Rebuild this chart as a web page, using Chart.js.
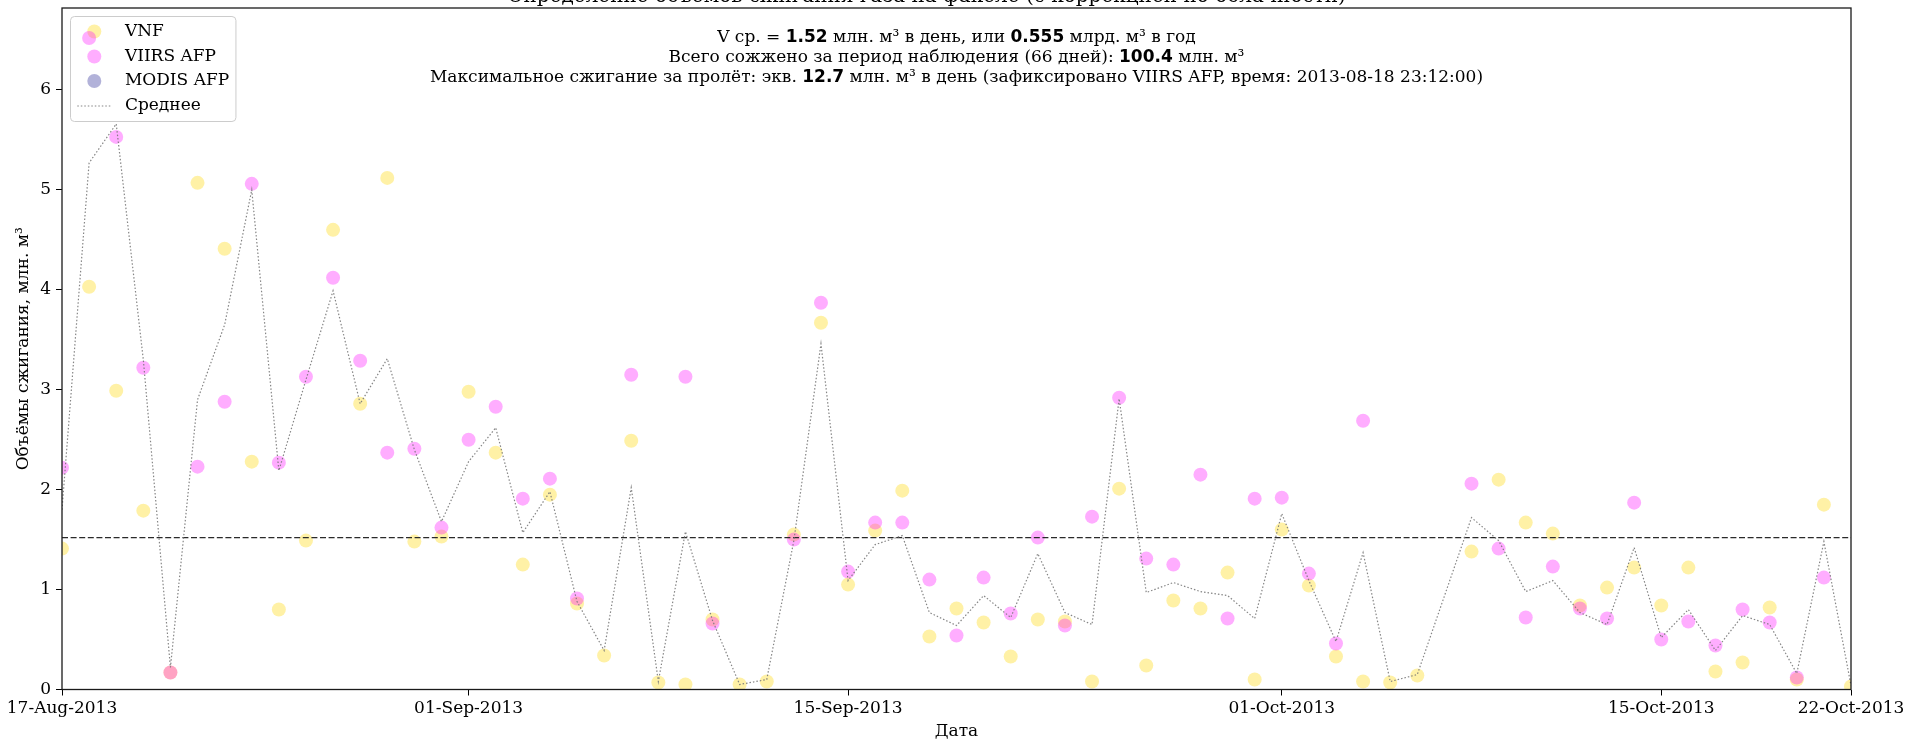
<!DOCTYPE html>
<html>
<head>
<meta charset="utf-8">
<script src="https://cdn.jsdelivr.net/npm/chart.js@4.4.1/dist/chart.umd.min.js"></script>
<style>
  html, body { margin: 0; padding: 0; background: #fff; }
  canvas { display: block; }
</style>
</head>
<body>
<canvas id="c" width="1905" height="740"></canvas>
<script>
// Day offsets from 17-Aug-2013 (0 .. 66)
const days = Array.from({ length: 67 }, (_, i) => i);

// Daily flared volume, mln m3 / day (null = no detection that day)
const vnf = [
  1.41, 4.03, 2.99, 1.79, 0.17, 5.07, 4.41, 2.28, 0.80, 1.49,
  4.60, 2.86, 5.12, 1.48, 1.53, 2.98, 2.37, 1.25, 1.95, 0.86,
  0.34, 2.49, 0.07, 0.05, 0.70, 0.05, 0.08, 1.55, 3.67, 1.05,
  1.59, 1.99, 0.53, 0.81, 0.67, 0.33, 0.70, 0.68, 0.08, 2.01,
  0.24, 0.89, 0.81, 1.17, 0.10, 1.60, 1.04, 0.33, 0.08, 0.07,
  0.14, null, 1.38, 2.10, 1.67, 1.56, 0.84, 1.02, 1.22, 0.84,
  1.22, 0.18, 0.27, 0.82, 0.10, 1.85, 0.03
];
const viirs = [
  2.22, 6.52, 5.53, 3.22, 0.17, 2.23, 2.88, 5.06, 2.27, 3.13,
  4.12, 3.29, 2.37, 2.41, 1.62, 2.50, 2.83, 1.91, 2.11, 0.91,
  null, 3.15, null, 3.13, 0.66, null, null, 1.50, 3.87, 1.18,
  1.67, 1.67, 1.10, 0.54, 1.12, 0.76, 1.52, 0.64, 1.73, 2.92,
  1.31, 1.25, 2.15, 0.71, 1.91, 1.92, 1.16, 0.46, 2.69, null,
  null, null, 2.06, 1.41, 0.72, 1.23, 0.81, 0.71, 1.87, 0.50,
  0.68, 0.44, 0.80, 0.67, 0.12, 1.12, null
];
const modis = [];
const dailyAverage = [
  1.80, 5.27, 5.66, 3.30, 0.22, 2.90, 3.65, 5.00, 2.19, 3.10,
  3.99, 2.86, 3.31, 2.40, 1.68, 2.28, 2.62, 1.57, 1.98, 0.88,
  0.39, 2.02, 0.08, 1.58, 0.69, 0.05, 0.10, 1.49, 3.46, 1.09,
  1.45, 1.54, 0.77, 0.64, 0.94, 0.72, 1.36, 0.77, 0.65, 2.91,
  0.97, 1.07, 0.98, 0.94, 0.71, 1.76, 1.09, 0.48, 1.37, 0.08,
  0.15, null, 1.72, 1.49, 0.98, 1.09, 0.77, 0.65, 1.42, 0.52,
  0.80, 0.39, 0.74, 0.65, 0.16, 1.48, 0.04
];

// Summary figures
const meanDaily = 1.52;
const meanAnnual = 0.555;
const totalVolume = 100.4;
const periodDays = 66;
const maxPass = 12.7;
const maxPassSource = 'VIIRS AFP';
const maxPassTime = '2013-08-18 23:12:00';

// Axis ticks
const xTickDays = [0, 15, 29, 45, 59, 66];
const xTickLabels = ['17-Aug-2013', '01-Sep-2013', '15-Sep-2013', '01-Oct-2013', '15-Oct-2013', '22-Oct-2013'];
const yTickValues = [0, 1, 2, 3, 4, 5, 6];
const xMax = 66;
const yMax = 6.82;

const SERIF = '"DejaVu Serif", serif';
const SANS = '"DejaVu Sans", sans-serif';
const FS = 17;

const toPoints = arr => days.map((d, i) => (arr[i] == null ? null : { x: d, y: arr[i] })).filter(Boolean);

const colVNF = 'rgba(255, 215, 0, 0.35)';
const colVIIRS = 'rgba(255, 0, 255, 0.32)';
const colMODIS = 'rgba(0, 0, 128, 0.3)';
const colAvg = 'rgba(120, 120, 120, 0.9)';

const legendItems = [
  { label: 'VNF', kind: 'dot', color: colVNF },
  { label: 'VIIRS AFP', kind: 'dot', color: colVIIRS },
  { label: 'MODIS AFP', kind: 'dot', color: colMODIS },
  { label: 'Среднее', kind: 'line', color: colAvg }
];

function drawRich(ctx, parts, cx, cy) {
  let total = 0;
  parts.forEach(p => { ctx.font = p.b ? `bold ${FS}px ${SANS}` : `${FS}px ${SERIF}`; p.w = ctx.measureText(p.t).width; total += p.w; });
  let x = cx - total / 2;
  ctx.textAlign = 'left';
  ctx.textBaseline = 'middle';
  parts.forEach(p => { ctx.font = p.b ? `bold ${FS}px ${SANS}` : `${FS}px ${SERIF}`; ctx.fillText(p.t, x, cy); x += p.w; });
}

const decor = {
  id: 'decor',
  beforeDatasetsDraw(chart) {
    // legend box, drawn under the markers
    const ctx = chart.ctx;
    const a = chart.chartArea;
    ctx.save();
    ctx.font = `${FS}px ${SERIF}`;
    const textW = Math.max(...legendItems.map(it => ctx.measureText(it.label).width));
    const bx = a.left + 0.5 * FS, by = a.top + 0.5 * FS;
    const textX = bx + 0.4 * FS + 2 * FS + 0.8 * FS;
    const bw = textX + textW + 0.4 * FS - bx;
    const bh = 105;
    ctx.beginPath();
    ctx.roundRect(bx, by, bw, bh, 4);
    ctx.fillStyle = 'rgba(255,255,255,0.8)';
    ctx.fill();
    ctx.strokeStyle = '#cccccc';
    ctx.lineWidth = 1;
    ctx.stroke();
    const rows = [by + 15, by + 40, by + 64.5, by + 89.5];
    const hx = bx + 0.4 * FS + FS;
    legendItems.forEach((it, i) => {
      const y = rows[i];
      if (it.kind === 'dot') {
        ctx.beginPath();
        ctx.arc(hx, y, 7, 0, Math.PI * 2);
        ctx.fillStyle = it.color;
        ctx.fill();
      } else {
        ctx.beginPath();
        ctx.setLineDash([1.5, 2]);
        ctx.strokeStyle = it.color;
        ctx.lineWidth = 1.2;
        ctx.moveTo(hx - FS, y);
        ctx.lineTo(hx + FS, y);
        ctx.stroke();
        ctx.setLineDash([]);
      }
      ctx.fillStyle = '#000';
      ctx.textAlign = 'left';
      ctx.textBaseline = 'middle';
      ctx.fillText(it.label, textX, y);
    });
    ctx.restore();
  },
  afterDraw(chart) {
    const ctx = chart.ctx;
    const a = chart.chartArea;
    const xs = chart.scales.x;
    ctx.save();
    // axes frame
    ctx.strokeStyle = '#1a1a1a';
    ctx.lineWidth = 1.3;
    ctx.strokeRect(a.left, a.top, a.right - a.left, a.bottom - a.top);

    // date tick labels
    ctx.fillStyle = '#000';
    ctx.font = `${FS}px ${SERIF}`;
    ctx.textAlign = 'center';
    ctx.textBaseline = 'middle';
    xTickDays.forEach((d, i) => ctx.fillText(xTickLabels[i], xs.getPixelForValue(d), a.bottom + 19));

    // axis titles
    const cx = (a.left + a.right) / 2;
    ctx.fillText('Дата', cx, a.bottom + 42);
    ctx.save();
    ctx.translate(24, (a.top + a.bottom) / 2);
    ctx.rotate(-Math.PI / 2);
    ctx.fillText('Объёмы сжигания, млн. м³', 0, 0);
    ctx.restore();

    // title (runs past the top of the canvas)
    ctx.font = `${Math.round(FS * 1.2)}px ${SERIF}`;
    ctx.textBaseline = 'alphabetic';
    ctx.fillText('Определение объёмов сжигания газа на факеле (с коррекцией по облачности)', cx - 30, 2);

    // summary text
    drawRich(ctx, [
      { t: 'V ср. = ' }, { t: meanDaily.toFixed(2), b: true }, { t: ' млн. м³ в день, или ' },
      { t: meanAnnual.toFixed(3), b: true }, { t: ' млрд. м³ в год' }
    ], cx, 38);
    drawRich(ctx, [
      { t: `Всего сожжено за период наблюдения (${periodDays} дней): ` }, { t: totalVolume.toFixed(1), b: true }, { t: ' млн. м³' }
    ], cx, 58);
    drawRich(ctx, [
      { t: 'Максимальное сжигание за пролёт: экв. ' }, { t: maxPass.toFixed(1), b: true },
      { t: ` млн. м³ в день (зафиксировано ${maxPassSource}, время: ${maxPassTime})` }
    ], cx, 78);
    ctx.restore();
  }
};

new Chart(document.getElementById('c'), {
  type: 'scatter',
  data: {
    datasets: [
      {
        label: 'Среднее', type: 'line', data: toPoints(dailyAverage), order: 0,
        borderColor: colAvg, borderWidth: 1.2, borderDash: [1.5, 2], pointRadius: 0,
        tension: 0, fill: false, clip: 0
      },
      {
        label: 'overall', type: 'line', data: [{ x: 0, y: meanDaily }, { x: xMax, y: meanDaily }], order: 1,
        borderColor: '#2a2a2a', borderWidth: 1.1, borderDash: [6, 2.6], pointRadius: 0, fill: false, clip: 0
      },
      {
        label: 'MODIS AFP', data: toPoints(modis), order: 2,
        backgroundColor: colMODIS, pointBorderWidth: 0, borderWidth: 0, pointRadius: 7, clip: 0
      },
      {
        label: 'VIIRS AFP', data: toPoints(viirs), order: 3,
        backgroundColor: colVIIRS, pointBackgroundColor: colVIIRS, pointBorderWidth: 0, borderWidth: 0,
        borderColor: 'rgba(0,0,0,0)', pointRadius: 7, clip: 0
      },
      {
        label: 'VNF', data: toPoints(vnf), order: 4,
        backgroundColor: colVNF, pointBackgroundColor: colVNF, pointBorderWidth: 0, borderWidth: 0,
        borderColor: 'rgba(0,0,0,0)', pointRadius: 7, clip: 0
      }
    ]
  },
  options: {
    responsive: false,
    animation: false,
    devicePixelRatio: 1,
    events: [],
    layout: { padding: { left: 0, right: 54, top: 8, bottom: 0 } },
    plugins: { legend: { display: false }, tooltip: { enabled: false } },
    scales: {
      x: {
        type: 'linear', min: 0, max: xMax,
        afterBuildTicks: s => { s.ticks = xTickDays.map(v => ({ value: v })); },
        ticks: { display: false },
        grid: { drawOnChartArea: false, drawTicks: true, tickLength: 6, color: '#000', lineWidth: 1 },
        border: { display: false },
        afterFit: s => { s.height = 50.5; s.paddingLeft = 0; s.paddingRight = 0; }
      },
      y: {
        type: 'linear', min: 0, max: yMax,
        afterBuildTicks: s => { s.ticks = yTickValues.map(v => ({ value: v })); },
        ticks: { color: '#000', padding: 5, font: { family: SERIF, size: FS }, callback: v => String(v) },
        grid: { drawOnChartArea: false, drawTicks: true, tickLength: 6, color: '#000', lineWidth: 1 },
        border: { display: false },
        afterFit: s => { s.width = 62; s.paddingTop = 0; s.paddingBottom = 0; }
      }
    }
  },
  plugins: [decor]
});
</script>
</body>
</html>
